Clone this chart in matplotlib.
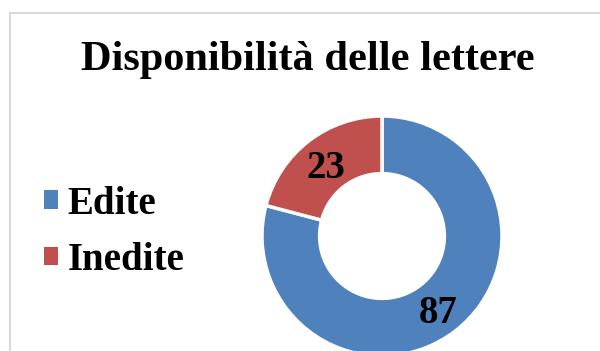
import matplotlib
matplotlib.use("Agg")
import matplotlib.pyplot as plt
from matplotlib.patches import Patch, Rectangle
from matplotlib.transforms import offset_copy

categories = ["Edite", "Inedite"]
values = [87, 23]
colors = ["#4F81BD", "#C0504D"]
title = "Disponibilità delle lettere"

W, H = 600, 351
fig = plt.figure(figsize=(W / 100, H / 100), dpi=100)
fig.patch.set_facecolor("white")

# chart border (light gray, extends off the right and bottom edges)
fig.patches.append(Rectangle((10 / W, -0.1), 1.2, 1 - 12.5 / H + 0.1,
                             transform=fig.transFigure, fill=False,
                             edgecolor="#d9d9d9", linewidth=1.5))

serif = ["Liberation Serif", "DejaVu Serif"]
fig.text(308 / W, 1 - 70 / H, title, ha="center", va="baseline",
         fontsize=30.5, fontweight="bold", family=serif)

cx, cy, r = 382, H - 236, 120
ax = fig.add_axes([(cx - r) / W, (cy - r) / H, 2 * r / W, 2 * r / H])
total = sum(values)
wedges, texts, autotexts = ax.pie(
    values, colors=colors, startangle=90, counterclock=False, radius=1,
    wedgeprops=dict(width=0.48, edgecolor="white", linewidth=2.5),
    autopct=lambda p: f"{round(p * total / 100)}", pctdistance=0.76,
    textprops=dict(fontsize=28, fontweight="bold", family=serif, color="black"))
for t in autotexts:
    t.set_transform(offset_copy(t.get_transform(), fig=fig, x=0, y=-5, units="dots"))
ax.set_xlim(-1, 1)
ax.set_ylim(-1, 1)
ax.set_aspect("equal")
ax.axis("off")

handles = [Patch(facecolor=c, edgecolor="none") for c in colors]
fig.legend(handles, categories, loc="upper left", bbox_to_anchor=(28 / W, 1 - 170 / H),
           frameon=False, handlelength=0.36, handleheight=0.36, handletextpad=0.26,
           labelspacing=0.5, borderaxespad=0,
           prop=dict(size=28, weight="bold", family=serif))

fig.savefig("out.png", dpi=100)
